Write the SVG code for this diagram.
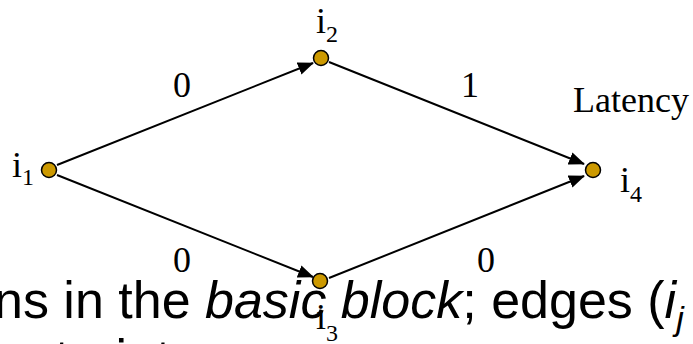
<svg xmlns="http://www.w3.org/2000/svg" width="693" height="344" viewBox="0 0 693 344">
<style>
.body{font-family:"Liberation Sans",Arial,sans-serif;font-size:52px;fill:#000}
.it{font-style:italic}
.lbl{font-family:"Liberation Serif","Times New Roman",serif;font-size:36px;fill:#000}
.sub{font-size:24px}
.node{fill:#CC9900;stroke:#000;stroke-width:1.5}
.edge{stroke:#000;stroke-width:2;fill:none;marker-end:url(#arr)}
</style>
<defs>
<marker id="arr" markerUnits="userSpaceOnUse" markerWidth="17" markerHeight="14" refX="15" refY="6.5" orient="auto">
<path d="M0,0 L16,6.5 L0,13 Z" fill="#000"/>
</marker>
</defs>
<rect width="693" height="344" fill="#fff"/>
<g id="bodytext">
<text class="body" x="-6" y="318">ns in the <tspan class="it">basic block</tspan>; edges (<tspan class="it">i</tspan><tspan class="it" font-size="34" dy="12">j</tspan></text>
<text class="body" x="-55" y="376">constraints</text>
</g>
<g id="connectors">
<line class="edge" x1="57" y1="165" x2="313" y2="63"/>
<line class="edge" x1="329" y1="62" x2="584" y2="164"/>
<line class="edge" x1="57" y1="175" x2="313" y2="277"/>
<line class="edge" x1="329" y1="278" x2="584" y2="176"/>
</g>
<g id="edge-labels">
<text class="lbl" x="182" y="97" text-anchor="middle">0</text>
<text class="lbl" x="470" y="97" text-anchor="middle">1</text>
<text class="lbl" x="182" y="272" text-anchor="middle">0</text>
<text class="lbl" x="486" y="272" text-anchor="middle">0</text>
<text class="lbl" x="573" y="112" font-size="37">Latency</text>
</g>
<g id="i1">
<circle class="node" cx="49" cy="170" r="7.5"/>
<text class="lbl" x="12" y="177">i<tspan class="sub" dy="8">1</tspan></text>
</g>
<g id="i2">
<circle class="node" cx="321" cy="58" r="7.5"/>
<text class="lbl" x="316" y="33">i<tspan class="sub" dy="9">2</tspan></text>
</g>
<g id="i3">
<circle class="node" cx="320" cy="281" r="7.5"/>
<text class="lbl" x="316" y="329">i<tspan class="sub" dy="12">3</tspan></text>
</g>
<g id="i4">
<circle class="node" cx="593" cy="170" r="7.5"/>
<text class="lbl" x="620" y="192">i<tspan class="sub" dy="10">4</tspan></text>
</g>
</svg>
